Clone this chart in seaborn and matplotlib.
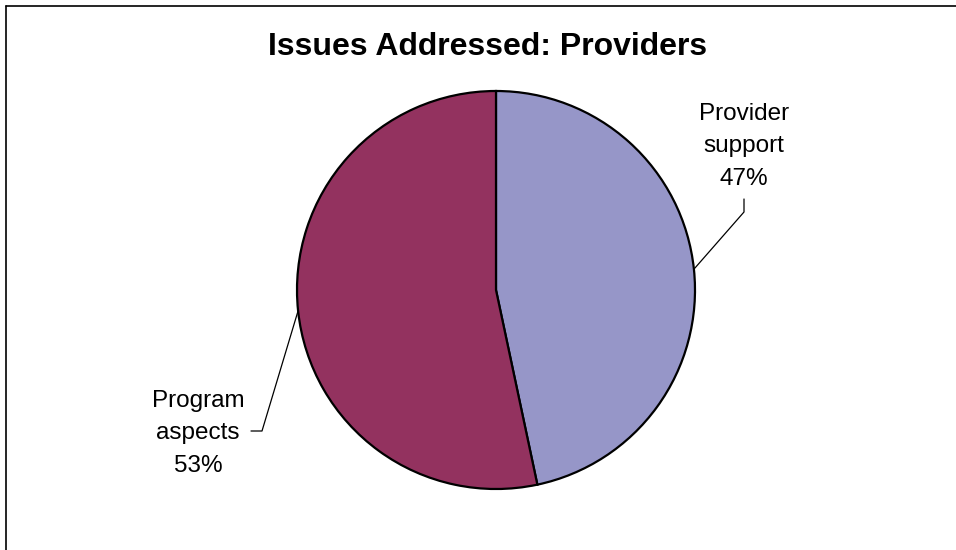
import numpy as np
import matplotlib
matplotlib.use("Agg")
import matplotlib.pyplot as plt
import seaborn as sns
from matplotlib.lines import Line2D

categories = ["Provider support", "Program aspects"]
counts = [14, 16]
colors = ["#9696C8", "#93325F"]
title = "Issues Addressed: Providers"

sns.set_theme(style="white")
plt.rcParams["font.family"] = ["Liberation Sans", "DejaVu Sans"]

W, H = 956, 550
fig = plt.figure(figsize=(W / 100, H / 100), dpi=100)
fig.patch.set_facecolor("white")
ax = fig.add_axes([0, 0, 1, 1])
ax.set_xlim(0, W)
ax.set_ylim(0, H)
ax.set_aspect("equal")
ax.axis("off")

cx, cy, r = 496, H - 290, 199
wedges, _ = ax.pie(counts, colors=colors, startangle=90, counterclock=False,
                   center=(cx, cy), radius=r, frame=True,
                   wedgeprops=dict(edgecolor="black", linewidth=1.6))
ax.set_xlim(0, W)
ax.set_ylim(0, H)
ax.axis("off")

total = sum(counts)
pcts = [round(100 * c / total) for c in counts]

def anchor(w):
    mid = np.deg2rad((w.theta1 + w.theta2) / 2)
    return cx + r * np.cos(mid), cy + r * np.sin(mid)

fs = 17.5
ls = 1.63
# Provider support label (right)
lx, ly = 744, H - 185
ax.text(lx, ly, f"Provider\nsupport\n{pcts[0]}%", ha="center", va="baseline",
        fontsize=fs, linespacing=ls, color="black")
ax0 = anchor(wedges[0])
ax.plot([lx, lx, ax0[0]], [H - 199, H - 212, ax0[1]], color="black", lw=0.9)

# Program aspects label (left)
lx2, ly2 = 198, H - 472
ax.text(lx2, ly2, f"Program\naspects\n{pcts[1]}%", ha="center", va="baseline",
        fontsize=fs, linespacing=ls, color="black")
a1 = anchor(wedges[1])
ax.plot([251, 262, a1[0]], [H - 431, H - 431, a1[1]], color="black", lw=0.9)

ax.text(488, H - 55, title, ha="center", va="baseline", fontsize=23,
        fontweight="bold", color="black")

# chart area frame (left and top edges visible)
fig.add_artist(Line2D([5.5 / W, 5.5 / W], [0, 1 - 5.5 / H], transform=fig.transFigure,
                      color="black", lw=1.2))
fig.add_artist(Line2D([5.5 / W, 1], [1 - 5.5 / H, 1 - 5.5 / H], transform=fig.transFigure,
                      color="black", lw=1.2))

fig.savefig("out.png", dpi=100, facecolor="white")
